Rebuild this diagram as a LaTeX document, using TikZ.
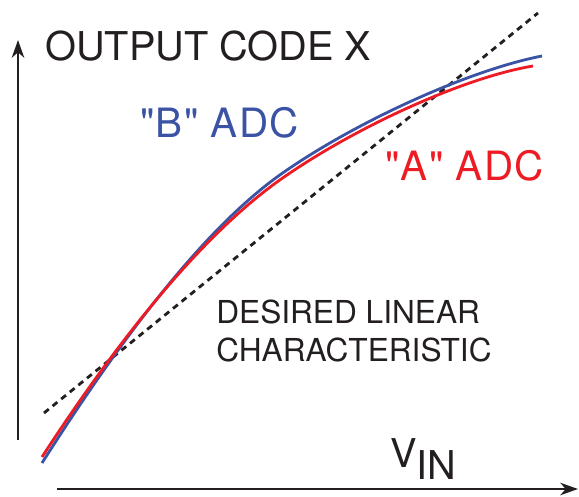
\documentclass[tikz,border=0pt]{standalone}
\usepackage{fontspec}
\setmainfont{TeX Gyre Heros}[Ligatures=TeXOff]
\usetikzlibrary{arrows.meta,positioning}
\definecolor{cBlue}{HTML}{3A53A4}
\definecolor{cRed}{HTML}{ED1C24}
\definecolor{cInk}{HTML}{231F20}
\tikzset{
  axis/.style={-{Stealth[length=10pt, width=7pt, inset=3pt]}, line width=1.5pt, cInk},
  adc/.style={line width=1.6pt, line cap=butt},
  ideal/.style={line width=1.6pt, cInk, dash pattern=on 3.5pt off 2.8pt},
  lbl/.style={anchor=base west, inner sep=0pt},
  big/.style={font=\fontsize{22.6pt}{26pt}\selectfont},
  adcfont/.style={font=\fontsize{23pt}{27pt}\selectfont\addfontfeature{LetterSpace=3}},
  small/.style={font=\fontsize{18pt}{21pt}\selectfont},
}
\begin{document}
\begin{tikzpicture}[x=0.02cm, y=-0.02cm]
  \useasboundingbox (0,0) rectangle (579,497);
  % axes
  \coordinate (yfoot) at (18,440);
  \coordinate (ytip) at (18,40);
  \coordinate (xfoot) at (57,489);
  \coordinate (xtip) at (578,489);
  \draw[axis] (yfoot) -- (ytip);
  \draw[axis] (xfoot) -- (xtip);
  % ideal line
  \coordinate (lin0) at (44,413);
  \coordinate (lin1) at (538,13);
  \draw[ideal] (lin0) -- (lin1);
  % the two converters
  \draw[adc, cBlue] (42,463) .. controls (122,337) and (207,224) .. (287,170)
                            .. controls (360,120) and (470,70) .. (542,56);
  \draw[adc, cRed] (42,457) .. controls (122,334) and (207,229) .. (287,175)
                           .. controls (360,125) and (466,77) .. (533,66);
  % labels
  \node[lbl, big, cInk] (ylab) at (45,60) {OUTPUT CODE X};
  \node[lbl, adcfont, cBlue] (blab) at (140,137) {"B" ADC};
  \node[lbl, adcfont, cRed] (alab) at (385,180) {"A" ADC};
  \node[lbl, small, cInk] (desc1) at (216,323) {DESIRED LINEAR};
  \node[lbl, small, cInk] (desc2) at (216,361) {CHARACTERISTIC};
  \node[lbl, big, cInk] (xlab) at (390,467) {V\lower0.26cm\hbox{IN}};
\end{tikzpicture}
\end{document}
